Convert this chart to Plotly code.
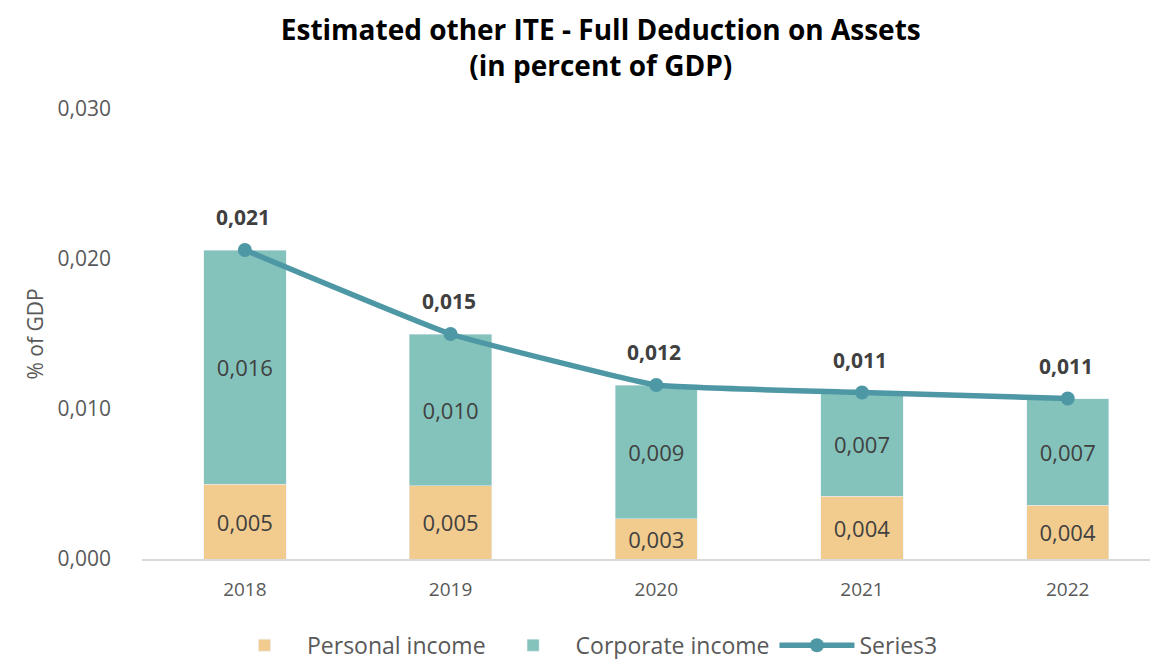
import plotly.graph_objects as go

years = ["2018", "2019", "2020", "2021", "2022"]
personal = [0.0050, 0.0049, 0.0027, 0.0042, 0.0036]
corporate = [0.0156, 0.0101, 0.0089, 0.0069, 0.0071]
totals = [round(p + c, 4) for p, c in zip(personal, corporate)]
yticks = [0.0, 0.010, 0.020, 0.030]

FONT = "Open Sans"
C_PERS = "#F2CC8F"
C_CORP = "#84C3BB"
C_LINE = "#4E97A5"

fig = go.Figure()
fig.add_trace(go.Bar(
    x=years, y=personal, name="Personal income", marker_color=C_PERS,
    width=0.40, texttemplate="%{y:.3f}", textposition="inside", insidetextanchor="middle",
    textfont=dict(family=FONT, size=22, color="#404040"), textangle=0,
))
fig.add_trace(go.Bar(
    x=years, y=corporate, name="Corporate income", marker_color=C_CORP,
    width=0.40, texttemplate="%{y:.3f}", textposition="inside", insidetextanchor="middle",
    textfont=dict(family=FONT, size=22, color="#404040"), textangle=0,
))
fig.add_trace(go.Scatter(
    x=years, y=totals, name="Series3", mode="lines+markers",
    line=dict(color=C_LINE, width=5.5, shape="spline", smoothing=0.3),
    marker=dict(color=C_LINE, size=14),
))

for i, tot in enumerate(totals):
    fig.add_annotation(
        x=i, y=tot, xref="x", yref="y",
        text="<b>" + f"{tot:.3f}".replace(".", ",") + "</b>",
        showarrow=False, yshift=33, xshift=-2,
        font=dict(family=FONT, size=21, color="#404040"),
    )

fig.update_layout(
    width=1160, height=659, barmode="stack", separators=",.",
    plot_bgcolor="white", paper_bgcolor="white",
    margin=dict(l=134, r=18, t=101, b=108),
    font=dict(family=FONT, color="#595959"),
    title=dict(
        text="<b>Estimated other ITE - Full Deduction on Assets<br>(in percent of GDP)</b>",
        x=0.511, xanchor="center", y=0.952, yanchor="middle",
        font=dict(family=FONT, size=28, color="#000000"),
    ),
    legend=dict(orientation="h", x=0.437, xanchor="center", yref="container", y=0.033,
                yanchor="middle", font=dict(family=FONT, size=23, color="#595959"),
                traceorder="normal", itemwidth=75),
    uniformtext=dict(mode=False),
)
fig.update_xaxes(
    type="category", range=[-0.5, 4.4], showgrid=False, showline=True,
    linecolor="#D9D9D9", linewidth=2, ticks="", ticklabelstandoff=12,
    tickfont=dict(family=FONT, size=19, color="#595959"),
)
fig.update_yaxes(
    range=[0, 0.030], tickvals=yticks, tickformat=".3f", showgrid=False, zeroline=False,
    showline=False, ticks="", ticklabelstandoff=30,
    tickfont=dict(family=FONT, size=21, color="#595959"),
    title=dict(text="% of GDP", font=dict(family=FONT, size=21, color="#595959"), standoff=8),
)

fig.write_html("out.html")
